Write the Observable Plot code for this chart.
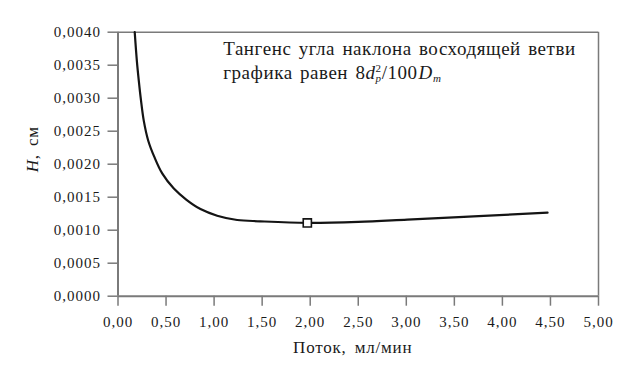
<!DOCTYPE html>
<html><head><meta charset="utf-8">
<script src="https://cdn.jsdelivr.net/npm/d3@7"></script>
<script src="https://cdn.jsdelivr.net/npm/@observablehq/plot@0.6"></script>
<style>
body{margin:0;background:#fff}
#chart svg text, #chart svg tspan{font-family:"Liberation Serif","Times New Roman",serif !important}
</style>
</head><body><div id="chart"></div>
<script>
// Flow rate (ml/min)
const flow = [0.174, 0.196, 0.216, 0.239, 0.268, 0.314, 0.378, 0.460, 0.581, 0.713, 0.858, 1.032, 1.240, 1.480, 1.970, 2.500, 3.010, 3.700, 4.470];
// Plate height H (cm)
const plateHeight = [0.00400, 0.00357, 0.00327, 0.00297, 0.00266, 0.00236, 0.00211, 0.00186, 0.00163, 0.00146, 0.00132, 0.00122, 0.001155, 0.001135, 0.00111, 0.001125, 0.00116, 0.00121, 0.001265];
// Optimum point marker
const optimumFlow = [1.97];
const optimumH = [0.00111];
// Ticks
const xTicks = [0, 0.5, 1, 1.5, 2, 2.5, 3, 3.5, 4, 4.5, 5];
const yTicks = [0, 0.0005, 0.001, 0.0015, 0.002, 0.0025, 0.003, 0.0035, 0.004];
const xTitle = "Поток, мл/мин";
const yTitleItalic = "H";
const yTitleRest = ", см";
const noteLine1 = "Тангенс угла наклона восходящей ветви";
const noteLine2 = "графика равен ";
const noteAnchor = {x: 1.10, y1: 0.00364, y2: 0.00329};

const curve = flow.map((u, i) => ({u, h: plateHeight[i]}));
const opt = optimumFlow.map((u, i) => ({u, h: optimumH[i]}));
const fmtX = d => d.toFixed(2).replace(".", ",");
const fmtY = d => d.toFixed(4).replace(".", ",");
const grey = "#7a7a7a";
const serif = "'Liberation Serif', 'Times New Roman', serif";

const chart = Plot.plot({
  width: 622, height: 381,
  marginLeft: 117.5, marginRight: 24, marginTop: 31.7, marginBottom: 85.3,
  style: {background: "#fff", fontSize: "15px", fontFamily: serif},
  x: {domain: [0, 5]},
  y: {domain: [0, 0.004]},
  marks: [
    Plot.ruleY([0.004], {stroke: grey, strokeWidth: 1.5}),
    Plot.ruleX([5], {stroke: grey, strokeWidth: 1.5}),
    Plot.ruleY([0], {stroke: grey, strokeWidth: 2}),
    Plot.ruleX([0], {stroke: grey, strokeWidth: 2}),
    Plot.axisX({ticks: xTicks, tickFormat: fmtX, tickSize: 10, tickPadding: 10, stroke: grey, strokeWidth: 1.5, fill: "#1a1a1a", label: null}),
    Plot.axisY({ticks: yTicks, tickFormat: fmtY, tickSize: 10, tickPadding: 7, stroke: grey, strokeWidth: 1.5, fill: "#1a1a1a", label: null}),
    Plot.line(curve, {x: "u", y: "h", curve: "catmull-rom", stroke: "#141414", strokeWidth: 2.2}),
    Plot.dot(opt, {x: "u", y: "h", symbol: "square", r: 4.6, fill: "#fff", stroke: "#141414", strokeWidth: 1.6})
  ]
});
document.getElementById("chart").append(chart);

const sx = chart.scale("x"), sy = chart.scale("y");
const svg = d3.select(chart);
svg.attr("font-family", serif);
svg.selectAll("g[aria-label='x-axis tick label'] text, g[aria-label='y-axis tick label'] text").style("letter-spacing", "1px");

function addText(x, y, size, anchor) {
  return svg.append("text").attr("x", x).attr("y", y)
    .attr("text-anchor", anchor).attr("font-size", size)
    .attr("font-family", serif).attr("fill", "#1a1a1a");
}

// x title
addText((sx.apply(0) + sx.apply(5)) / 2 - 5, sy.apply(0) + 57, 17, "middle")
  .style("letter-spacing", "0.8px").style("word-spacing", "3px").text(xTitle);

// y title
const yt = svg.append("text")
  .attr("transform", `translate(${sx.apply(0) - 80},${sy.apply(0.00222)}) rotate(-90)`)
  .attr("text-anchor", "middle").attr("font-family", serif)
  .attr("font-size", 17).attr("fill", "#1a1a1a")
  .style("letter-spacing", "0.8px").style("word-spacing", "3px");
yt.append("tspan").attr("font-style", "italic").text(yTitleItalic);
yt.append("tspan").text(yTitleRest);

// annotation
const ax = sx.apply(noteAnchor.x);
addText(ax, sy.apply(noteAnchor.y1), 19, "start").style("letter-spacing", "0.55px").style("word-spacing", "2px").text(noteLine1);
const t2 = addText(ax, sy.apply(noteAnchor.y2), 19, "start").style("letter-spacing", "0.55px").style("word-spacing", "2px");
t2.append("tspan").text(noteLine2 + "8");
t2.append("tspan").attr("font-style", "italic").text("d");
t2.append("tspan").attr("font-size", 11).attr("dy", -7).text("2");
t2.append("tspan").attr("font-size", 11).attr("font-style", "italic").attr("dx", -6).attr("dy", 10).text("p");
t2.append("tspan").attr("dy", -3).text("/100");
t2.append("tspan").attr("font-style", "italic").attr("dx", 1).text("D");
t2.append("tspan").attr("font-size", 11).attr("font-style", "italic").attr("dy", 3).text("m");
</script>
</body></html>
